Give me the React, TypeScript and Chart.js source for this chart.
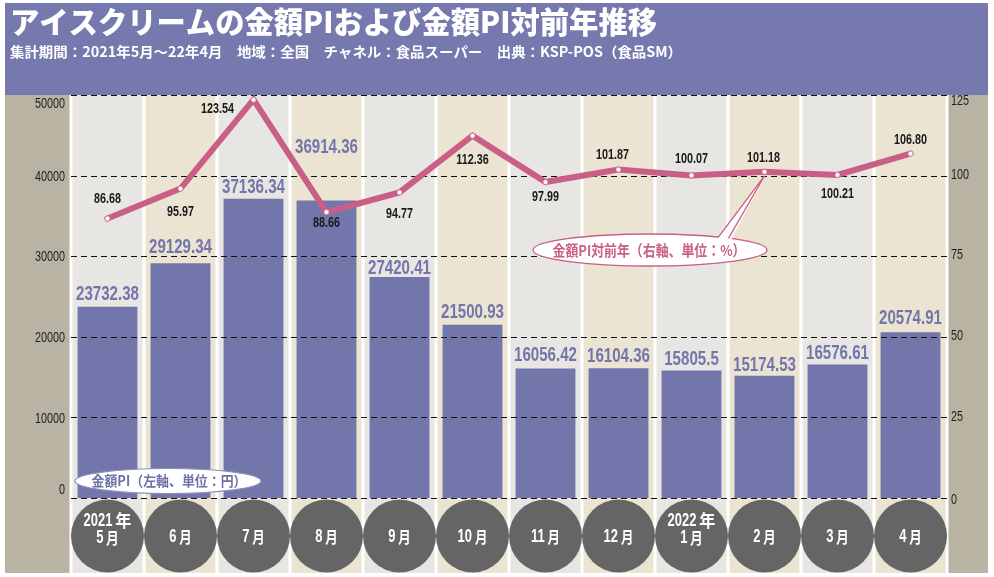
import { useEffect, useRef } from 'react';
import { Chart, registerables } from 'chart.js';

Chart.register(...registerables);

// ---------- data ----------
const categories = ['2021年5月', '6月', '7月', '8月', '9月', '10月', '11月', '12月', '2022年1月', '2月', '3月', '4月'];
const salesPI = [23732.38, 29129.34, 37136.34, 36914.36, 27420.41, 21500.93, 16056.42, 16104.36, 15805.5, 15174.53, 16576.61, 20574.91];
const yoyPI = [86.68, 95.97, 123.54, 88.66, 94.77, 112.36, 97.99, 101.87, 100.07, 101.18, 100.21, 106.8];
const leftTickValues = [0, 10000, 20000, 30000, 40000, 50000];
const rightTickValues = [0, 25, 50, 75, 100, 125];

const titleText = 'アイスクリームの金額PIおよび金額PI対前年推移';
const subtitleText = '集計期間：2021年5月～22年4月　地域：全国　チャネル：食品スーパー　出典：KSP-POS（食品SM）';
const barLegendText = '金額PI（左軸、単位：円）';
const lineLegendText = '金額PI対前年（右軸、単位：%）';

// ---------- layout / style ----------
const BAR_LABEL_DY = [-12, -16, -11, -53, -9, -12, -13, -12, -11, -10, -11, -14];
const LINE_LABEL_OFF: [number, number][] = [
  [0, -20], [0, 23], [-36, 9], [0, 11], [0, 21], [0, 24],
  [0, 15], [-6, -15], [0, -17], [-1, -14], [0, 19], [0, -14],
];

const TITLE_BG = '#7679ad';
const BAR_COLOR = '#7276ab';
const LABEL_PURPLE = '#7276ab';
const STRIP = '#b9b3a4';
const BAND_A = '#e8e6e3';
const BAND_B = '#ebe4d3';
const CIRCLE = '#656565';
const PINK = '#c95e86';
const NUM_FONT = '"Liberation Sans", Arial, sans-serif';
const JP_FONT = '"Noto Sans CJK JP", "Noto Sans", sans-serif';

function drawScaled(
  ctx: CanvasRenderingContext2D, text: string, x: number, y: number,
  font: string, sx: number, align: 'left' | 'center' | 'right', color: string,
) {
  ctx.save();
  ctx.font = font;
  ctx.fillStyle = color;
  ctx.textBaseline = 'middle';
  ctx.textAlign = 'left';
  const w = ctx.measureText(text).width * sx;
  const left = align === 'center' ? x - w / 2 : align === 'right' ? x - w : x;
  ctx.translate(left, y);
  ctx.scale(sx, 1);
  ctx.fillText(text, 0, 0);
  ctx.restore();
}

function drawFit(
  ctx: CanvasRenderingContext2D, text: string, x: number, y: number,
  font: string, width: number, align: 'left' | 'center', color: string,
) {
  ctx.save();
  ctx.font = font;
  const w = ctx.measureText(text).width;
  ctx.restore();
  drawScaled(ctx, text, x, y, font, Math.min(1.2, width / w), align, color);
}

type Run = { t: string; font: string; sx: number };

function drawRuns(ctx: CanvasRenderingContext2D, runs: Run[], cx: number, cy: number, gap: number, color: string) {
  ctx.save();
  const widths = runs.map((r) => {
    ctx.font = r.font;
    return ctx.measureText(r.t).width * r.sx;
  });
  const total = widths.reduce((a, b) => a + b, 0) + gap * (runs.length - 1);
  let x = cx - total / 2;
  ctx.restore();
  runs.forEach((r, i) => {
    drawScaled(ctx, r.t, x, cy, r.font, r.sx, 'left', color);
    x += widths[i] + gap;
  });
}

function catRuns(text: string): Run[] {
  const parts = text.match(/(\d+|年|月)/g) || [];
  return parts.map((p) => {
    if (p === '年') return { t: p, font: `bold 17px ${JP_FONT}`, sx: 0.95 };
    if (p === '月') return { t: p, font: `bold 16px ${JP_FONT}`, sx: 0.78 };
    return { t: p, font: `bold 18px ${NUM_FONT}`, sx: 0.72 };
  });
}

const decorPlugin = {
  id: 'decor',
  beforeDraw(chart: any) {
    const { ctx, chartArea: a, scales } = chart;
    const xs = scales.x;
    const n = categories.length;
    const cw = (a.right - a.left) / n;
    const L = 5, R = 988, T = 3, B = 573;
    ctx.save();
    ctx.fillStyle = '#ffffff';
    ctx.fillRect(0, 0, chart.width, chart.height);
    ctx.fillStyle = TITLE_BG;
    ctx.fillRect(L, T, R - L, a.top - T);
    ctx.fillStyle = STRIP;
    ctx.fillRect(L, a.top, a.left - L, B - a.top);
    ctx.fillRect(a.right, a.top, R - a.right, B - a.top);
    for (let i = 0; i < n; i++) {
      ctx.fillStyle = i % 2 === 0 ? BAND_A : BAND_B;
      ctx.fillRect(a.left + i * cw, a.top, cw, B - a.top);
    }
    ctx.fillStyle = '#ffffff';
    for (let i = 0; i <= n; i++) {
      ctx.fillRect(a.left + i * cw - 1.5, a.top, 3, B - a.top);
    }
    // category circles
    const cy = 536;
    categories.forEach((c, i) => {
      const cx = xs.getPixelForValue(i);
      ctx.fillStyle = CIRCLE;
      ctx.beginPath();
      ctx.arc(cx, cy, 36.5, 0, Math.PI * 2);
      ctx.fill();
      const idx = c.indexOf('年');
      if (idx >= 0) {
        drawRuns(ctx, catRuns(c.slice(0, idx + 1)), cx, cy - 15, 3, '#ffffff');
        drawRuns(ctx, catRuns(c.slice(idx + 1)), cx, cy + 2, 3, '#ffffff');
      } else {
        drawRuns(ctx, catRuns(c), cx, cy + 1, 3, '#ffffff');
      }
    });
    ctx.restore();
    // title + subtitle
    drawFit(ctx, titleText, 10, 22, `900 30px ${JP_FONT}`, 647, 'left', '#ffffff');
    drawFit(ctx, subtitleText, 10, 52, `bold 14px ${JP_FONT}`, 672, 'left', '#ffffff');
    // tick labels
    const tickFont = `15px ${NUM_FONT}`;
    const yl = scales.y;
    leftTickValues.forEach((v) => {
      let py = yl.getPixelForValue(v);
      if (v === 50000) py += 8;
      if (v === 0) py -= 9;
      drawScaled(ctx, String(v), a.left - 6, py + 1, tickFont, 0.72, 'right', '#1e1e1e');
    });
    const yr = scales.y1;
    rightTickValues.forEach((v) => {
      let py = yr.getPixelForValue(v);
      if (v === 125) py += 7;
      if (v === 0) py += 3;
      drawScaled(ctx, String(v), a.right + 4, py - 1, tickFont, 0.72, 'left', '#1e1e1e');
    });
  },
  afterDatasetDraw(chart: any, args: any) {
    if (args.index !== 0) return;
    const { ctx, chartArea: a, scales } = chart;
    ctx.save();
    ctx.strokeStyle = '#111111';
    ctx.lineWidth = 1;
    ctx.setLineDash([6, 4]);
    leftTickValues.forEach((v) => {
      const py = Math.round(scales.y.getPixelForValue(v)) + 0.5;
      ctx.beginPath();
      ctx.moveTo(a.left, py);
      ctx.lineTo(a.right, py);
      ctx.stroke();
    });
    ctx.restore();
  },
  afterDatasetsDraw(chart: any) {
    const { ctx } = chart;
    const barMeta = chart.getDatasetMeta(0);
    const lineMeta = chart.getDatasetMeta(1);
    salesPI.forEach((v, i) => {
      const el = barMeta.data[i];
      drawScaled(ctx, String(v), el.x, el.y + BAR_LABEL_DY[i], `bold 20px ${NUM_FONT}`, 0.755, 'center', LABEL_PURPLE);
    });
    yoyPI.forEach((v, i) => {
      const el = lineMeta.data[i];
      const [dx, dy] = LINE_LABEL_OFF[i];
      drawScaled(ctx, v.toFixed(2), el.x + dx, el.y + dy, `bold 15px ${NUM_FONT}`, 0.72, 'center', '#1a1a1a');
    });
    // legend ellipse for bars
    ctx.save();
    ctx.beginPath();
    ctx.ellipse(168, 481, 93, 12.5, 0, 0, Math.PI * 2);
    ctx.fillStyle = '#ffffff';
    ctx.fill();
    ctx.strokeStyle = '#8f90b8';
    ctx.lineWidth = 1.2;
    ctx.stroke();
    ctx.restore();
    drawFit(ctx, barLegendText, 169, 481, `bold 14px ${JP_FONT}`, 155, 'center', '#6e71a8');
    // legend ellipse for line with callout
    const p = lineMeta.data[9];
    ctx.save();
    ctx.beginPath();
    ctx.ellipse(650, 250, 117, 16, 0, 0, Math.PI * 2);
    ctx.fillStyle = '#ffffff';
    ctx.fill();
    ctx.strokeStyle = PINK;
    ctx.lineWidth = 1.3;
    ctx.stroke();
    ctx.beginPath();
    ctx.moveTo(716, 240);
    ctx.lineTo(p.x, p.y + 4);
    ctx.lineTo(731, 240);
    ctx.closePath();
    ctx.fillStyle = '#ffffff';
    ctx.fill();
    ctx.beginPath();
    ctx.moveTo(718, 237.6);
    ctx.lineTo(p.x, p.y + 4);
    ctx.lineTo(728.5, 238.4);
    ctx.stroke();
    ctx.restore();
    drawFit(ctx, lineLegendText, 649, 250, `bold 15px ${JP_FONT}`, 193, 'center', PINK);
  },
};

export default function App() {
  const ref = useRef<HTMLCanvasElement | null>(null);
  useEffect(() => {
    if (!ref.current) return;
    const chart = new Chart(ref.current, {
      type: 'bar',
      data: {
        labels: categories,
        datasets: [
          {
            type: 'bar',
            data: salesPI,
            yAxisID: 'y',
            backgroundColor: BAR_COLOR,
            barPercentage: 0.82,
            categoryPercentage: 1,
            order: 2,
          },
          {
            type: 'line',
            data: yoyPI,
            yAxisID: 'y1',
            borderColor: PINK,
            borderWidth: 6,
            borderCapStyle: 'round',
            borderJoinStyle: 'miter',
            pointRadius: 2.6,
            pointBackgroundColor: '#ffffff',
            pointBorderColor: PINK,
            pointBorderWidth: 0.8,
            tension: 0,
            order: 1,
          } as any,
        ],
      },
      options: {
        animation: false,
        responsive: false,
        devicePixelRatio: 1,
        layout: { padding: { left: 71, right: 47, top: 95, bottom: 79 } },
        plugins: { legend: { display: false }, tooltip: { enabled: false }, title: { display: false } },
        scales: {
          x: { display: false },
          y: { display: false, min: 0, max: 50000, ticks: { stepSize: 10000 } },
          y1: { display: false, position: 'right', min: 0, max: 125, ticks: { stepSize: 25 } },
        },
      },
      plugins: [decorPlugin],
    });
    return () => chart.destroy();
  }, []);
  return (
    <div style={{ position: 'fixed', left: 0, top: 0, width: 994, height: 577 }}>
      <canvas ref={ref} width={994} height={577} />
    </div>
  );
}
